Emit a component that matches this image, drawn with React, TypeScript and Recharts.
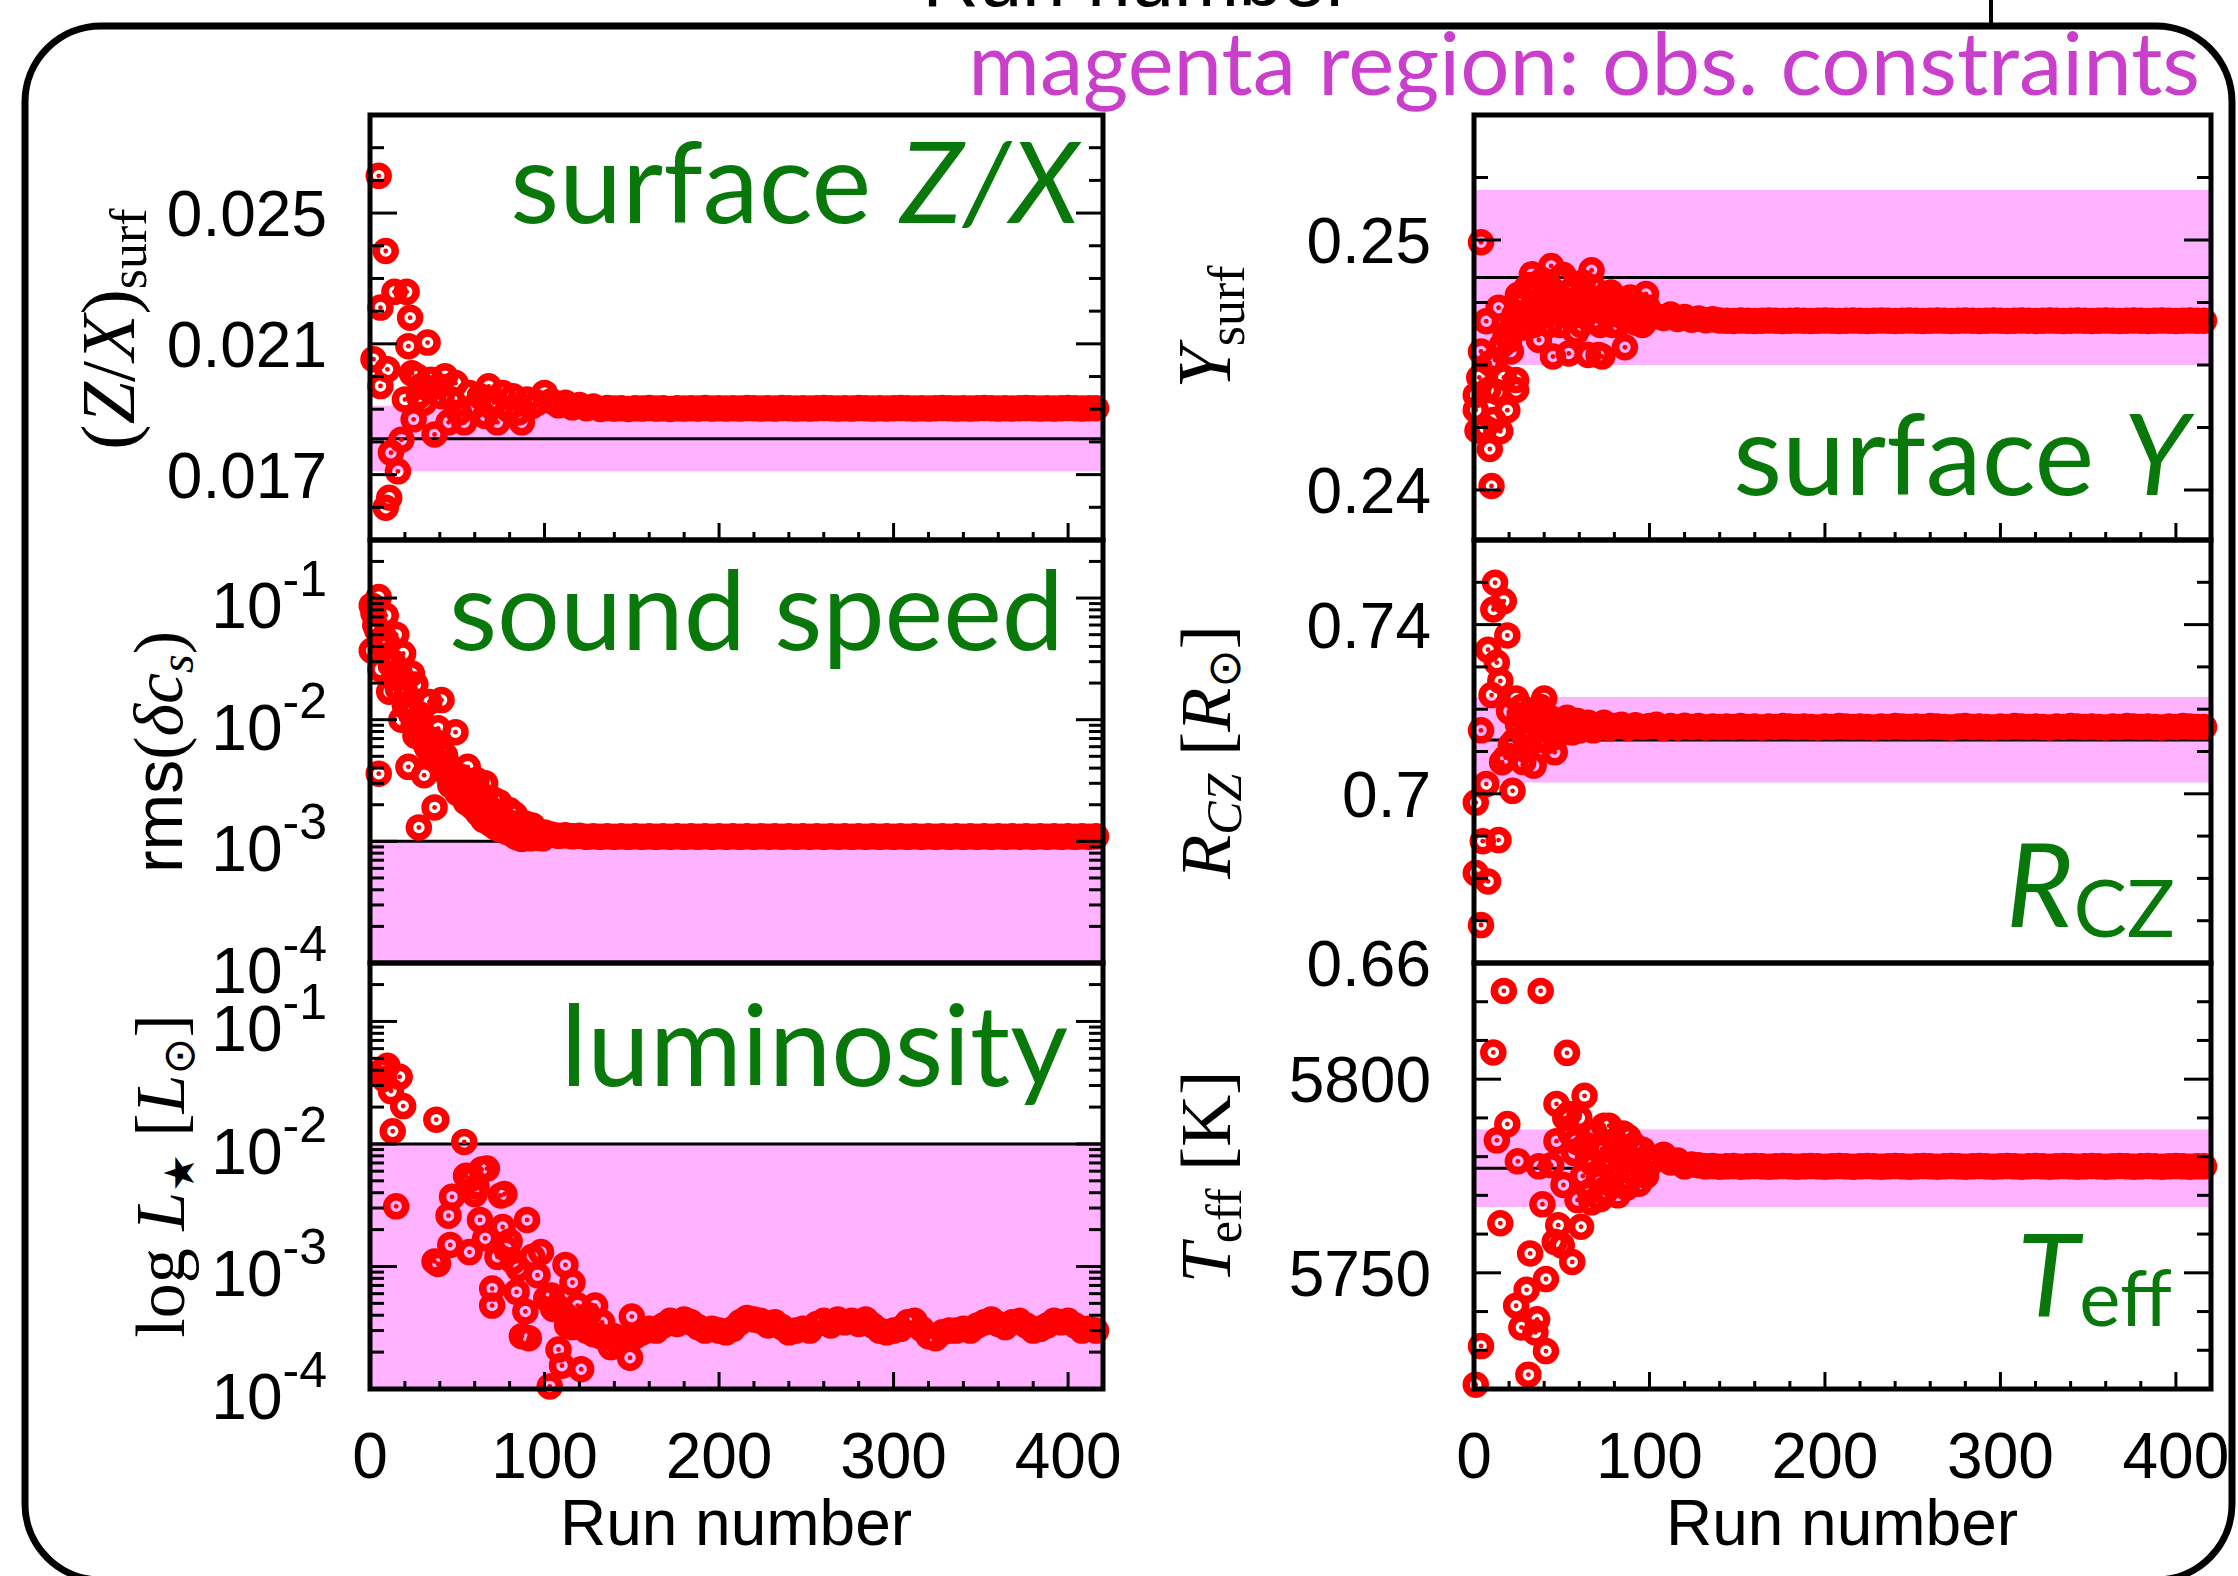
import React from 'react';
import { ScatterChart, Scatter, XAxis, YAxis, ReferenceArea, ReferenceLine } from 'recharts';

const PAGE_W = 2238;
const PAGE_H = 1576;

const RED = '#ff0000';
const PINK = '#ffb2ff';
const GREEN = '#08780a';
const MAGENTA = '#c93fcc';
const SANS = "'Liberation Sans', Arial, sans-serif";
const SERIF = "'Liberation Serif', 'DejaVu Serif', serif";
const LABEL_FONT = "Lato, 'Noto Sans', sans-serif";

// run axis (shared by all panels)
const runTicks = [0, 20, 40, 60, 80, 100, 120, 140, 160, 180, 200, 220, 240, 260, 280, 300, 320, 340, 360, 380, 400, 420];
const runMajor = [0, 100, 200, 300, 400];
const runLabels = ['0', '100', '200', '300', '400'];

// converged part of the runs, sampled every 4 runs
const lateRuns = [
  104, 108, 112, 116, 120, 124, 128, 132, 136, 140,
  144, 148, 152, 156, 160, 164, 168, 172, 176, 180,
  184, 188, 192, 196, 200, 204, 208, 212, 216, 220,
  224, 228, 232, 236, 240, 244, 248, 252, 256, 260,
  264, 268, 272, 276, 280, 284, 288, 292, 296, 300,
  304, 308, 312, 316, 320, 324, 328, 332, 336, 340,
  344, 348, 352, 356, 360, 364, 368, 372, 376, 380,
  384, 388, 392, 396, 400, 404, 408, 412, 416,
];

// ---- surface Z/X ----
const zxEarly: [number, number][] = [
  [2, 0.02053], [5, 0.02614], [6, 0.02211], [6, 0.01971], [9, 0.02384], [9, 0.01599], [10, 0.02022],
  [11, 0.01629], [12, 0.01767], [14, 0.02259], [16, 0.0171], [18, 0.01807], [20, 0.0193], [21, 0.02259],
  [22, 0.02093], [23, 0.0218], [24, 0.0201], [25, 0.01869], [27, 0.02], [28, 0.0194], [29, 0.0197],
  [31, 0.0192], [33, 0.02104], [34, 0.0196], [35, 0.0199], [37, 0.01823], [39, 0.0197], [41, 0.0194],
  [43, 0.02001], [45, 0.0186], [47, 0.0193], [49, 0.0198], [51, 0.0189], [54, 0.0186], [57, 0.0195],
  [60, 0.0191], [63, 0.0194], [66, 0.0188], [68, 0.0197], [71, 0.0192], [73, 0.0186], [76, 0.0195],
  [79, 0.019], [82, 0.0194], [85, 0.0189], [87, 0.0186], [90, 0.0193], [93, 0.0191], [96, 0.0192],
  [100, 0.0195],
];
const zxLate = [
  0.01925, 0.01912, 0.0192, 0.01906, 0.01913, 0.01903, 0.01908, 0.01901, 0.01904, 0.01902,
  0.01903, 0.01901, 0.01903, 0.01902, 0.01904, 0.01902, 0.01903, 0.01901, 0.01903, 0.01902,
  0.01903, 0.01902, 0.01904, 0.01902, 0.01903, 0.01902, 0.01903, 0.01902, 0.01904, 0.01903,
  0.01902, 0.01903, 0.01902, 0.01904, 0.01903, 0.01902, 0.01903, 0.01902, 0.01903, 0.01904,
  0.01903, 0.01902, 0.01903, 0.01902, 0.01904, 0.01903, 0.01902, 0.01903, 0.01902, 0.01903,
  0.01904, 0.01903, 0.01902, 0.01903, 0.01902, 0.01903, 0.01904, 0.01903, 0.01902, 0.01903,
  0.01902, 0.01903, 0.01904, 0.01903, 0.01902, 0.01903, 0.01902, 0.01903, 0.01904, 0.01903,
  0.01902, 0.01903, 0.01902, 0.01903, 0.01904, 0.01903, 0.01902, 0.01903, 0.01903,
];
const zxTicks = [0.016, 0.017, 0.018, 0.019, 0.02, 0.021, 0.022, 0.023, 0.024, 0.025, 0.026, 0.027];
const zxMajor = [0.017, 0.021, 0.025];
const zxLabels = ['0.017', '0.021', '0.025'];

// ---- sound speed rms ----
const ssEarly: [number, number][] = [
  [1, 0.087], [1, 0.037], [2, 0.075], [3, 0.06], [4, 0.055], [5, 0.102], [5, 0.0036], [6, 0.026],
  [7, 0.04], [8, 0.048], [9, 0.072], [10, 0.042], [11, 0.017], [12, 0.028], [13, 0.03], [14, 0.022],
  [15, 0.05], [16, 0.018], [17, 0.024], [18, 0.01], [19, 0.035], [20, 0.013], [21, 0.016], [22, 0.0041],
  [23, 0.0115], [24, 0.024], [25, 0.009], [26, 0.0195], [26, 0.0074], [27, 0.0098], [28, 0.0013],
  [29, 0.011], [30, 0.0078], [31, 0.0035], [32, 0.0062], [33, 0.0058], [34, 0.014], [35, 0.0052],
  [36, 0.0068], [37, 0.0019], [38, 0.0047], [39, 0.0085], [40, 0.0056], [41, 0.0145], [42, 0.0039],
  [43, 0.0051], [44, 0.0036], [45, 0.0042], [46, 0.0029], [47, 0.0033], [48, 0.0031], [49, 0.0079],
  [50, 0.0025], [51, 0.003], [52, 0.0034], [53, 0.0026], [54, 0.0028], [55, 0.0021], [56, 0.0041],
  [57, 0.0024], [58, 0.0022], [59, 0.0019], [60, 0.0027], [61, 0.0032], [62, 0.0017], [63, 0.0019],
  [64, 0.0024], [65, 0.0015], [66, 0.003], [67, 0.002], [68, 0.0016], [69, 0.0014], [70, 0.0018],
  [71, 0.0022], [72, 0.0013], [73, 0.0016], [74, 0.0021], [75, 0.00125], [76, 0.0014], [77, 0.0015],
  [78, 0.0012], [79, 0.00145], [80, 0.0018], [81, 0.00115], [82, 0.0013], [83, 0.00166], [84, 0.00108],
  [85, 0.00125], [86, 0.0012], [87, 0.00105], [88, 0.0012], [89, 0.0014], [90, 0.00108], [91, 0.00125],
  [92, 0.00106], [93, 0.00135], [94, 0.00112], [95, 0.00118], [96, 0.0011], [97, 0.00107], [98, 0.00112],
  [99, 0.00106], [100, 0.00118],
];
const ssLate = [
  0.00114, 0.00111, 0.00112, 0.0011, 0.00111, 0.00109, 0.0011, 0.00109, 0.0011, 0.00109,
  0.0011, 0.00109, 0.0011, 0.00109, 0.0011, 0.00109, 0.0011, 0.00109, 0.0011, 0.00109,
  0.0011, 0.00109, 0.0011, 0.00109, 0.0011, 0.00109, 0.0011, 0.00109, 0.0011, 0.00109,
  0.0011, 0.00109, 0.0011, 0.00109, 0.0011, 0.00109, 0.0011, 0.00109, 0.0011, 0.00109,
  0.0011, 0.00109, 0.0011, 0.00109, 0.0011, 0.00109, 0.0011, 0.00109, 0.0011, 0.00109,
  0.0011, 0.00109, 0.0011, 0.00109, 0.0011, 0.00109, 0.0011, 0.00109, 0.0011, 0.00109,
  0.0011, 0.00109, 0.0011, 0.00109, 0.0011, 0.00109, 0.0011, 0.00109, 0.0011, 0.00109,
  0.0011, 0.00109, 0.0011, 0.00109, 0.0011, 0.00109, 0.0011, 0.00109, 0.0011,
];

// ---- luminosity ----
const lumEarly: [number, number][] = [
  [7, 0.0397], [8, 0.034], [10, 0.0434], [12, 0.027], [13, 0.0127], [15, 0.0031], [17, 0.0353],
  [19, 0.0204], [37, 0.0011], [38, 0.0158], [39, 0.00105], [45, 0.0026], [46, 0.0015], [47, 0.0037],
  [54, 0.0104], [55, 0.0055], [57, 0.00131], [58, 0.0052], [60, 0.0039], [61, 0.0045], [63, 0.0024],
  [64, 0.0062], [66, 0.0017], [67, 0.0063], [70, 0.00066], [70, 0.00048], [73, 0.0012], [75, 0.0038],
  [76, 0.0021], [77, 0.0039], [78, 0.0014], [80, 0.0016], [82, 0.0011], [84, 0.00062], [85, 0.00096],
  [87, 0.00027], [89, 0.00043], [90, 0.0024], [91, 0.00026], [93, 0.0012], [96, 0.00085], [98, 0.00131],
  [101, 0.00055], [103, 0.000105], [105, 0.00045], [108, 0.00021], [110, 0.000155], [112, 0.00103],
  [113, 0.00033], [116, 0.00074], [116, 0.00032], [119, 0.00048], [121, 0.000145], [125, 0.0004],
  [129, 0.00048], [133, 0.00035], [138, 0.00022], [142, 0.00024], [149, 0.00018], [150, 0.00039],
];
const lumLate = [
  0.00058, 0.00046, 0.0004, 0.00036, 0.00033, 0.0003, 0.00028, 0.00027, 0.00026, 0.00027,
  0.00025, 0.00026, 0.00027, 0.00029, 0.00031, 0.0003, 0.00033, 0.00036, 0.00034, 0.00037,
  0.00035, 0.00032, 0.0003, 0.00031, 0.0003, 0.00029, 0.00031, 0.00035, 0.00038, 0.00037,
  0.00036, 0.00033, 0.00035, 0.00032, 0.00029, 0.0003, 0.00031, 0.0003, 0.00034, 0.00036,
  0.00033, 0.00037, 0.00035, 0.00036, 0.00034, 0.00037, 0.00033, 0.0003, 0.00029, 0.0003,
  0.00031, 0.00035, 0.00036, 0.00031, 0.00027, 0.00026, 0.00029, 0.0003, 0.0003, 0.00031,
  0.0003, 0.00033, 0.00035, 0.00037, 0.00034, 0.00032, 0.00035, 0.00036, 0.00033, 0.0003,
  0.00031, 0.00033, 0.00036, 0.00035, 0.00036, 0.00033, 0.0003, 0.00031, 0.0003,
];
const logTicks = [
  0.0001, 0.0002, 0.0003, 0.0004, 0.0005, 0.0006, 0.0007, 0.0008, 0.0009,
  0.001, 0.002, 0.003, 0.004, 0.005, 0.006, 0.007, 0.008, 0.009,
  0.01, 0.02, 0.03, 0.04, 0.05, 0.06, 0.07, 0.08, 0.09,
  0.1, 0.2,
];
const logMajor = [0.0001, 0.001, 0.01, 0.1];
const logLabels = ['-4', '-3', '-2', '-1'];

// ---- surface Y ----
const yEarly: [number, number][] = [
  [1, 0.2432], [1, 0.2438], [2, 0.24238], [3, 0.2445], [4, 0.24991], [4, 0.24554], [6, 0.2425],
  [7, 0.24675], [8, 0.244], [9, 0.24507], [9, 0.24164], [10, 0.24016], [11, 0.2428], [12, 0.2452],
  [13, 0.24392], [14, 0.24729], [15, 0.24235], [16, 0.2458], [17, 0.2445], [18, 0.2462], [19, 0.24319],
  [20, 0.246], [21, 0.24554], [22, 0.2466], [23, 0.247], [24, 0.2444], [24, 0.244], [25, 0.2478],
  [26, 0.2475], [27, 0.247], [28, 0.2465], [29, 0.2476], [30, 0.2481], [31, 0.2468], [32, 0.2482],
  [33, 0.24863], [34, 0.2466], [35, 0.2474], [36, 0.248], [37, 0.246], [38, 0.2472], [39, 0.2484],
  [40, 0.2477], [41, 0.247], [42, 0.2482], [43, 0.2466], [44, 0.24896], [45, 0.24534], [46, 0.2475],
  [47, 0.2478], [48, 0.2484], [49, 0.2466], [50, 0.247], [51, 0.2486], [52, 0.2476], [53, 0.2472],
  [54, 0.24546], [55, 0.2469], [56, 0.248], [57, 0.2481], [58, 0.2463], [59, 0.2472], [60, 0.2475],
  [61, 0.2466], [62, 0.2483], [63, 0.2478], [64, 0.2471], [65, 0.2454], [66, 0.2475], [67, 0.24879],
  [68, 0.2481], [69, 0.2468], [70, 0.2472], [71, 0.2454], [72, 0.2466], [73, 0.24534], [74, 0.2476],
  [75, 0.2478], [76, 0.247], [77, 0.2472], [78, 0.2479], [79, 0.2466], [80, 0.2472], [81, 0.2476],
  [82, 0.2466], [83, 0.247], [84, 0.2476], [85, 0.2471], [86, 0.24571], [87, 0.2468], [88, 0.2474],
  [89, 0.2477], [90, 0.2468], [91, 0.2471], [92, 0.2467], [93, 0.2472], [94, 0.2474], [95, 0.247],
  [96, 0.2466], [97, 0.2467], [98, 0.24784], [99, 0.2473], [100, 0.247],
];
const yLate = [
  0.24695, 0.24688, 0.24702, 0.24684, 0.24692, 0.24681, 0.24686, 0.24679, 0.24683, 0.24678,
  0.24677, 0.24676, 0.24678, 0.24677, 0.24676, 0.24677, 0.24678, 0.24677, 0.24676, 0.24677,
  0.24678, 0.24677, 0.24676, 0.24677, 0.24678, 0.24677, 0.24676, 0.24677, 0.24678, 0.24677,
  0.24676, 0.24677, 0.24678, 0.24677, 0.24676, 0.24677, 0.24678, 0.24677, 0.24676, 0.24677,
  0.24678, 0.24677, 0.24676, 0.24677, 0.24678, 0.24677, 0.24676, 0.24677, 0.24678, 0.24677,
  0.24676, 0.24677, 0.24678, 0.24677, 0.24676, 0.24677, 0.24678, 0.24677, 0.24676, 0.24677,
  0.24678, 0.24677, 0.24676, 0.24677, 0.24678, 0.24677, 0.24676, 0.24677, 0.24678, 0.24677,
  0.24676, 0.24677, 0.24678, 0.24677, 0.24676, 0.24677, 0.24678, 0.24677, 0.24677,
];
const yTicks = [0.24, 0.2425, 0.245, 0.2475, 0.25, 0.2525];
const yMajor = [0.24, 0.25];
const yLabels = ['0.24', '0.25'];

// ---- convective zone radius ----
const rczEarly: [number, number][] = [
  [1, 0.69793], [1, 0.68126], [4, 0.715], [4, 0.66898], [5, 0.68881], [7, 0.70231], [8, 0.73405],
  [8, 0.67929], [10, 0.72333], [11, 0.74357], [12, 0.7499], [13, 0.73103], [14, 0.68905], [15, 0.72667],
  [16, 0.70746], [17, 0.74555], [18, 0.7085], [19, 0.73745], [20, 0.7195], [21, 0.7115], [22, 0.7007],
  [23, 0.7125], [24, 0.72255], [25, 0.7165], [26, 0.7185], [27, 0.7205], [28, 0.7075], [29, 0.7105],
  [30, 0.7132], [31, 0.7178], [32, 0.7195], [33, 0.7142], [34, 0.70667], [35, 0.7195], [36, 0.7165],
  [37, 0.7128], [38, 0.7205], [39, 0.7168], [40, 0.72255], [41, 0.7185], [42, 0.7125], [43, 0.7148],
  [44, 0.7178], [45, 0.7172], [46, 0.7098], [47, 0.7135], [48, 0.7152], [49, 0.7168], [50, 0.7165],
  [51, 0.7152], [53, 0.718], [54, 0.7172], [56, 0.7145], [57, 0.7162], [59, 0.7172], [60, 0.715],
  [62, 0.7158], [65, 0.7168], [68, 0.715], [71, 0.7162], [74, 0.7168], [77, 0.7155], [80, 0.716],
  [84, 0.7163], [88, 0.7156], [92, 0.7162], [96, 0.7158], [100, 0.716],
];
const rczLate = [
  0.7163, 0.7155, 0.716, 0.7157, 0.7161, 0.7158, 0.716, 0.7157, 0.7159, 0.7158,
  0.7159, 0.7158, 0.716, 0.7158, 0.7159, 0.7157, 0.7159, 0.7158, 0.716, 0.7159,
  0.7158, 0.7159, 0.7158, 0.7157, 0.7159, 0.7158, 0.716, 0.7159, 0.7158, 0.7159,
  0.7158, 0.7157, 0.7159, 0.7158, 0.716, 0.7159, 0.7158, 0.7159, 0.7158, 0.716,
  0.7159, 0.7158, 0.7157, 0.7159, 0.716, 0.7158, 0.7159, 0.7158, 0.7157, 0.7159,
  0.7158, 0.716, 0.7159, 0.7158, 0.7159, 0.7158, 0.7157, 0.7159, 0.7158, 0.716,
  0.7159, 0.7158, 0.7159, 0.7158, 0.7157, 0.7159, 0.7158, 0.716, 0.7159, 0.7158,
  0.7159, 0.7158, 0.7157, 0.7159, 0.7158, 0.716, 0.7159, 0.7158, 0.7158,
];
const rczTicks = [0.66, 0.67, 0.68, 0.69, 0.7, 0.71, 0.72, 0.73, 0.74, 0.75];
const rczMajor = [0.66, 0.7, 0.74];
const rczLabels = ['0.66', '0.7', '0.74'];

// ---- effective temperature ----
const teffEarly: [number, number][] = [
  [1, 5721.1], [4, 5731.1], [11, 5806.9], [13, 5784.2], [15, 5762.8], [17, 5822.8], [19, 5788.4],
  [24, 5741.5], [25, 5778.8], [27, 5735.9], [30, 5745.6], [31, 5723.7], [32, 5755], [35, 5734.6],
  [36, 5738], [37, 5777.5], [38, 5822.8], [39, 5767.7], [41, 5729.8], [41, 5748.4], [44, 5777.8],
  [46, 5758], [47, 5793.6], [47, 5784], [48, 5762.3], [50, 5757.1], [51, 5772.7], [52, 5790],
  [53, 5806.8], [54, 5791], [55, 5786], [56, 5752.8], [57, 5781], [58, 5784], [59, 5768.8], [60, 5790],
  [61, 5761.9], [62, 5775], [63, 5795.7], [64, 5783], [65, 5780], [66, 5771], [67, 5768.2], [68, 5778],
  [69, 5786], [70, 5782], [71, 5774], [72, 5769], [73, 5782], [74, 5788], [75, 5771], [76, 5779],
  [77, 5788], [78, 5773], [79, 5775], [80, 5784], [81, 5781], [82, 5770], [84, 5773], [85, 5786],
  [86, 5779], [87, 5772], [88, 5785], [89, 5777], [90, 5776], [91, 5783], [93, 5779], [94, 5773],
  [96, 5781.8], [97, 5776], [98, 5775], [99, 5780], [100, 5778],
];
const teffLate = [
  5779.5, 5780.5, 5778.5, 5779, 5777.5, 5778, 5777.8, 5777.5, 5777.6, 5777.4,
  5777.5, 5777.6, 5777.4, 5777.5, 5777.6, 5777.5, 5777.4, 5777.5, 5777.6, 5777.5,
  5777.4, 5777.5, 5777.6, 5777.5, 5777.4, 5777.5, 5777.6, 5777.5, 5777.4, 5777.5,
  5777.6, 5777.5, 5777.4, 5777.5, 5777.6, 5777.5, 5777.4, 5777.5, 5777.6, 5777.5,
  5777.4, 5777.5, 5777.6, 5777.5, 5777.4, 5777.5, 5777.6, 5777.5, 5777.4, 5777.5,
  5777.6, 5777.5, 5777.4, 5777.5, 5777.6, 5777.5, 5777.4, 5777.5, 5777.6, 5777.5,
  5777.4, 5777.5, 5777.6, 5777.5, 5777.4, 5777.5, 5777.6, 5777.5, 5777.4, 5777.5,
  5777.6, 5777.5, 5777.4, 5777.5, 5777.6, 5777.5, 5777.4, 5777.5, 5777.5,
];
const teffTicks = [5730, 5740, 5750, 5760, 5770, 5780, 5790, 5800, 5810, 5820];
const teffMajor = [5750, 5800];
const teffLabels = ['5750', '5800'];

type Side = 'left' | 'right' | 'top' | 'bottom';

// axis strips are 1px wide (Recharts skips axes of zero size); ticks are drawn inward from the frame
const AX = 1;

const makeTick = (side: Side, major: number[], labels: string[] | null, log: boolean) => (props: any) => {
  const { x, y, payload } = props;
  const v = Number(payload.value);
  const mi = major.findIndex((m) => Math.abs(m - v) <= Math.abs(m) * 1e-6 + 1e-12);
  const isMajor = mi >= 0;
  const vertical = side === 'left' || side === 'right';
  const len = vertical ? (isMajor ? 27 : 14) : isMajor ? 17 : 8;
  let x2 = x;
  let y2 = y;
  if (side === 'left') x2 = x + len;
  if (side === 'right') x2 = x - len;
  if (side === 'top') y2 = y + len;
  if (side === 'bottom') y2 = y - len;
  let label: React.ReactNode = null;
  if (isMajor && labels) {
    if (side === 'left') {
      label = log ? (
        <text x={x - 43} y={y + 30} textAnchor="end" fontFamily={SANS} fontSize={64} fill="#000">
          10<tspan fontSize={50} dy={-32}>{labels[mi]}</tspan>
        </text>
      ) : (
        <text x={x - 43} y={y + 23} textAnchor="end" fontFamily={SANS} fontSize={64} fill="#000">
          {labels[mi]}
        </text>
      );
    } else if (side === 'bottom') {
      label = (
        <text x={x} y={y + 89} textAnchor="middle" fontFamily={SANS} fontSize={64} fill="#000">
          {labels[mi]}
        </text>
      );
    }
  }
  return (
    <g>
      <line x1={x} y1={y} x2={x2} y2={y2} stroke="#000" strokeWidth={3} />
      {label}
    </g>
  );
};

const Ring = (props: any) => {
  const { cx, cy } = props;
  if (cx == null || cy == null) return null;
  return (
    <g>
      <circle cx={cx} cy={cy} r={9.5} fill="none" stroke={RED} strokeWidth={7.5} />
      <circle cx={cx} cy={cy} r={2.4} fill={RED} />
    </g>
  );
};

interface PanelDef {
  id: string;
  x: number;
  y: number;
  w: number;
  h: number;
  early: [number, number][];
  late: number[];
  domain: [number, number];
  log: boolean;
  ticks: number[];
  major: number[];
  labels: string[];
  band: [number, number];
  line: number;
  xTop: boolean;
  xBottom: boolean;
  xLabels: boolean;
}

const LEFT_X = 370;
const LEFT_W = 733;
const RIGHT_X = 1474;
const RIGHT_W = 737;
const ROWS = [115, 540, 963, 1389];

const panels: PanelDef[] = [
  { id: 'zx', x: LEFT_X, y: ROWS[0], w: LEFT_W, h: ROWS[1] - ROWS[0], early: zxEarly, late: zxLate, domain: [0.015, 0.028], log: false, ticks: zxTicks, major: zxMajor, labels: zxLabels, band: [0.0171, 0.0191], line: 0.0181, xTop: true, xBottom: true, xLabels: false },
  { id: 'ss', x: LEFT_X, y: ROWS[1], w: LEFT_W, h: ROWS[2] - ROWS[1], early: ssEarly, late: ssLate, domain: [0.0001, 0.3], log: true, ticks: logTicks, major: logMajor, labels: logLabels, band: [0.0001, 0.001], line: 0.001, xTop: false, xBottom: false, xLabels: false },
  { id: 'lum', x: LEFT_X, y: ROWS[2], w: LEFT_W, h: ROWS[3] - ROWS[2], early: lumEarly, late: lumLate, domain: [0.0001, 0.3], log: true, ticks: logTicks, major: logMajor, labels: logLabels, band: [0.0001, 0.01], line: 0.01, xTop: true, xBottom: true, xLabels: true },
  { id: 'y', x: RIGHT_X, y: ROWS[0], w: RIGHT_W, h: ROWS[1] - ROWS[0], early: yEarly, late: yLate, domain: [0.238, 0.255], log: false, ticks: yTicks, major: yMajor, labels: yLabels, band: [0.245, 0.252], line: 0.2485, xTop: true, xBottom: true, xLabels: false },
  { id: 'rcz', x: RIGHT_X, y: ROWS[1], w: RIGHT_W, h: ROWS[2] - ROWS[1], early: rczEarly, late: rczLate, domain: [0.66, 0.76], log: false, ticks: rczTicks, major: rczMajor, labels: rczLabels, band: [0.7027, 0.7229], line: 0.7127, xTop: false, xBottom: false, xLabels: false },
  { id: 'teff', x: RIGHT_X, y: ROWS[2], w: RIGHT_W, h: ROWS[3] - ROWS[2], early: teffEarly, late: teffLate, domain: [5720, 5830], log: false, ticks: teffTicks, major: teffMajor, labels: teffLabels, band: [5767, 5787], line: 5777, xTop: true, xBottom: true, xLabels: true },
];

const PanelChart = ({ p }: { p: PanelDef }) => {
  const data = [
    ...p.early.map(([run, v]) => ({ run, v })),
    ...lateRuns.map((run, i) => ({ run, v: p.late[i] })),
  ];
  const scale = p.log ? 'log' : 'linear';
  return (
    <div style={{ position: 'absolute', left: 0, top: 0 }}>
      <ScatterChart
        width={PAGE_W}
        height={PAGE_H}
        margin={{
          left: p.x - AX,
          top: p.y - AX,
          right: PAGE_W - p.x - p.w - AX,
          bottom: PAGE_H - p.y - p.h - AX,
        }}
      >
        <ReferenceArea xAxisId="b" yAxisId="l" y1={p.band[0]} y2={p.band[1]} fill={PINK} fillOpacity={1} stroke="none" />
        <ReferenceLine xAxisId="b" yAxisId="l" y={p.line} stroke="#000" strokeWidth={3} />
        <Scatter xAxisId="b" yAxisId="l" data={data} shape={Ring} isAnimationActive={false} />
        <XAxis
          xAxisId="b"
          dataKey="run"
          type="number"
          domain={[0, 420]}
          ticks={runTicks}
          interval={0}
          height={AX}
          tickSize={0}
          tickMargin={0}
          axisLine={false}
          tickLine={false}
          tick={p.xBottom ? makeTick('bottom', runMajor, p.xLabels ? runLabels : null, false) : false}
        />
        <XAxis
          xAxisId="t"
          orientation="top"
          type="number"
          domain={[0, 420]}
          allowDataOverflow
          ticks={runTicks}
          interval={0}
          height={AX}
          tickSize={0}
          tickMargin={0}
          axisLine={false}
          tickLine={false}
          tick={p.xTop ? makeTick('top', runMajor, null, false) : false}
        />
        <YAxis
          yAxisId="l"
          dataKey="v"
          type="number"
          scale={scale}
          domain={p.domain}
          ticks={p.ticks}
          interval={0}
          width={AX}
          tickSize={0}
          tickMargin={0}
          axisLine={false}
          tickLine={false}
          tick={makeTick('left', p.major, p.labels, p.log)}
        />
        <YAxis
          yAxisId="r"
          orientation="right"
          type="number"
          scale={scale}
          domain={p.domain}
          allowDataOverflow
          ticks={p.ticks}
          interval={0}
          width={AX}
          tickSize={0}
          tickMargin={0}
          axisLine={false}
          tickLine={false}
          tick={makeTick('right', p.major, null, p.log)}
        />
      </ScatterChart>
    </div>
  );
};

const Overlay = () => (
  <svg width={PAGE_W} height={PAGE_H} style={{ position: 'absolute', left: 0, top: 0 }}>
    {/* bottom of the caption that belongs to the figure above */}
    <text x={1137} y={6} textAnchor="middle" fontFamily={SANS} fontSize={78} fill="#000">Run number</text>
    <line x1={1991} y1={0} x2={1991} y2={26} stroke="#000" strokeWidth={4} />
    <rect x={25} y={26} width={2207} height={1554} rx={76} ry={76} fill="none" stroke="#000" strokeWidth={7} />

    <text x={2200} y={95} textAnchor="end" fontFamily={LABEL_FONT} fontSize={87} fill={MAGENTA}>
      magenta region: obs. constraints
    </text>

    {panels.map((p) => (
      <rect key={p.id} x={p.x} y={p.y} width={p.w} height={p.h} fill="none" stroke="#000" strokeWidth={5} />
    ))}

    {/* panel names */}
    <g fontFamily={LABEL_FONT} fill={GREEN} textAnchor="end">
      <text x={1079} y={223} fontSize={113}>
        surface <tspan fontStyle="italic">Z/X</tspan>
      </text>
      <text x={1064} y={650} fontSize={111}>sound speed</text>
      <text x={1068} y={1086} fontSize={112}>luminosity</text>
      <text x={2189} y={495} fontSize={113}>
        surface <tspan fontStyle="italic">Y</tspan>
      </text>
      <text x={2175} y={927} fontSize={116}>
        <tspan fontStyle="italic">R</tspan>
        <tspan fontSize={80} dy={10}>CZ</tspan>
      </text>
      <text x={2172} y={1316} fontSize={114}>
        <tspan fontStyle="italic">T</tspan>
        <tspan fontSize={78} dy={10}>eff</tspan>
      </text>
    </g>

    {/* y axis titles */}
    <g fontFamily={SERIF} fill="#000" textAnchor="middle" fontSize={70}>
      <text transform="translate(134,329) rotate(-90)" fontSize={76}>
        (<tspan fontStyle="italic">Z</tspan>/<tspan fontStyle="italic">X</tspan>)
        <tspan fontSize={52} dy={12}>surf</tspan>
      </text>
      <text transform="translate(182,752) rotate(-90)">
        <tspan fontFamily={SANS} fontSize={68}>rms</tspan>(<tspan fontStyle="italic">δc</tspan>
        <tspan fontSize={48} dy={11} fontStyle="italic">s</tspan>
        <tspan dy={-11}>)</tspan>
      </text>
      <text transform="translate(184,1176) rotate(-90)">
        log <tspan fontStyle="italic">L</tspan>
        <tspan fontSize={42} dy={10} fontFamily="'DejaVu Sans', sans-serif">★</tspan>
        <tspan dy={-10}> [</tspan>
        <tspan fontStyle="italic">L</tspan>
        <tspan fontSize={44} dy={10} fontFamily="'DejaVu Sans', sans-serif">⊙</tspan>
        <tspan dy={-10}>]</tspan>
      </text>
      <text transform="translate(1230,327) rotate(-90)" fontSize={76}>
        <tspan fontStyle="italic">Y</tspan>
        <tspan fontSize={52} dy={14}>surf</tspan>
      </text>
      <text transform="translate(1230,752) rotate(-90)" fontSize={72}>
        <tspan fontStyle="italic">R</tspan>
        <tspan fontSize={50} dy={11} fontStyle="italic">CZ</tspan>
        <tspan dy={-11}> [</tspan>
        <tspan fontStyle="italic">R</tspan>
        <tspan fontSize={46} dy={10} fontFamily="'DejaVu Sans', sans-serif">⊙</tspan>
        <tspan dy={-10}>]</tspan>
      </text>
      <text transform="translate(1230,1177) rotate(-90)" fontSize={72}>
        <tspan fontStyle="italic">T</tspan>
        <tspan fontSize={50} dy={11}>eff</tspan>
        <tspan dy={-11}> [K]</tspan>
      </text>
    </g>

    {/* x axis titles */}
    <text x={736} y={1545} textAnchor="middle" fontFamily={SANS} fontSize={64} fill="#000">Run number</text>
    <text x={1842} y={1545} textAnchor="middle" fontFamily={SANS} fontSize={64} fill="#000">Run number</text>
  </svg>
);

export default function App() {
  return (
    <div style={{ position: 'absolute', left: 0, top: 0, width: PAGE_W, height: PAGE_H, background: '#fff', overflow: 'hidden' }}>
      {panels.map((p) => (
        <PanelChart key={p.id} p={p} />
      ))}
      <Overlay />
    </div>
  );
}
